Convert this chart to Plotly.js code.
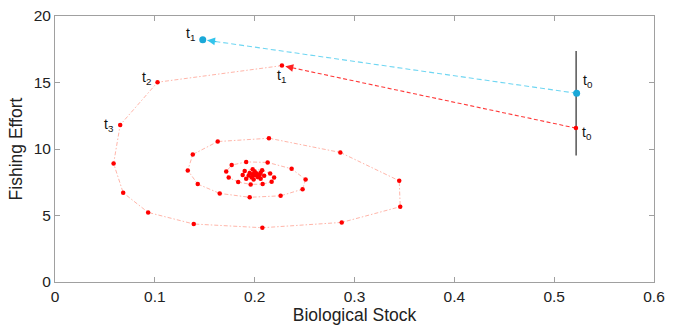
<!DOCTYPE html>
<html>
<head>
<meta charset="utf-8">
<script src="https://cdn.plot.ly/plotly-3.0.1.min.js"></script>
<style>html,body{margin:0;padding:0;background:#fff;}#chart{width:675px;height:329px;}</style>
</head>
<body>
<div id="chart"></div>
<script>
// Red trajectory (t0, t1, t2, t3, ... spiralling in)
const redX = [0.5218, 0.2273, 0.1027, 0.0653, 0.0587, 0.0683, 0.0933, 0.139, 0.2077, 0.2872, 0.3458, 0.3448, 0.2858, 0.2143,
  0.163, 0.138, 0.133, 0.143, 0.165, 0.195, 0.226, 0.248, 0.251, 0.237,
  0.213, 0.1915, 0.177, 0.1715, 0.174, 0.1835, 0.196, 0.208, 0.217, 0.2195, 0.2155,
  0.2075, 0.198, 0.19, 0.188, 0.1915, 0.199, 0.206, 0.2095, 0.206, 0.2, 0.195, 0.194, 0.197, 0.203, 0.205, 0.202, 0.198, 0.199, 0.201, 0.2];
const redY = [11.57, 16.27, 15.02, 11.81, 8.91, 6.71, 5.23, 4.36, 4.08, 4.48, 5.66, 7.61, 9.74, 10.81,
  10.56, 9.59, 8.39, 7.36, 6.66, 6.37, 6.48, 6.98, 7.70, 8.51,
  8.99, 9.03, 8.79, 8.31, 7.86, 7.51, 7.34, 7.36, 7.53, 7.86, 8.16,
  8.40, 8.47, 8.34, 8.04, 7.76, 7.70, 7.76, 7.98, 8.22, 8.30, 8.20, 8.00, 7.88, 7.90, 8.05, 8.15, 8.10, 8.02, 8.05, 8.07];
// Blue trajectory (t0 -> t1)
const blueX = [0.5225, 0.148];
const blueY = [14.19, 18.22];
// Vertical reference segment
const vlineX = [0.522, 0.522];
const vlineY = [9.52, 17.37];
// Tick labels
const xTicks = [0, 0.1, 0.2, 0.3, 0.4, 0.5, 0.6];
const xTickText = ['0', '0.1', '0.2', '0.3', '0.4', '0.5', '0.6'];
const yTicks = [0, 5, 10, 15, 20];
const yTickText = ['0', '5', '10', '15', '20'];

const FONT = 'Liberation Sans, Arial, sans-serif';

const traces = [
  {x: vlineX, y: vlineY, mode: 'lines', line: {color: '#555555', width: 1.5}, hoverinfo: 'skip'},
  {x: redX.slice(1), y: redY.slice(1), mode: 'lines', line: {color: '#ffad9f', width: 0.9, dash: '4px,2px,1.5px,2px'}},
  {x: redX.slice(0, 2), y: redY.slice(0, 2), mode: 'lines', line: {color: '#ff3a3a', width: 1.1, dash: '4px,2.5px'}},
  {x: blueX, y: blueY, mode: 'lines', line: {color: '#6fd6f2', width: 1.1, dash: '5px,3px'}},
  {x: redX, y: redY, mode: 'markers', marker: {color: '#ff0000', size: 4.5}},
  {x: blueX, y: blueY, mode: 'markers', marker: {color: '#1aa8d8', size: 7}}
];

function arrow(x0, y0, x1, y1, color) {
  const f = 0.04;
  return {x: x1 + (x0 - x1) * 0.012, y: y1 + (y0 - y1) * 0.012, ax: x1 + (x0 - x1) * f, ay: y1 + (y0 - y1) * f,
    xref: 'x', yref: 'y', axref: 'x', ayref: 'y', text: '', showarrow: true,
    arrowhead: 2, arrowsize: 1.3, arrowwidth: 1.2, arrowcolor: color};
}
function label(x, y, n, dx, dy) {
  return {x: x, y: y, xref: 'x', yref: 'y', text: 't<sub>' + n + '</sub>', showarrow: false,
    xshift: dx, yshift: dy, font: {family: FONT, size: 14, color: '#111'}};
}

const annotations = [
  arrow(redX[0], redY[0], redX[1], redY[1], '#ff2222'),
  arrow(blueX[0], blueY[0], blueX[1], blueY[1], '#33c4ec'),
  label(blueX[1], blueY[1], 1, -12, 6),
  label(blueX[0], blueY[0], 0, 11, 12),
  label(redX[0], redY[0], 0, 11, -5),
  label(redX[1], redY[1], 1, 0, -10),
  label(redX[2], redY[2], 2, -11, 4),
  label(redX[3], redY[3], 3, -11, 0)
];

const axisCommon = {
  showgrid: false, zeroline: false, showline: true, mirror: 'ticks', linecolor: '#a0a0a0', linewidth: 1,
  ticks: 'inside', ticklen: 5, tickcolor: '#a0a0a0', tickwidth: 1,
  tickfont: {family: FONT, size: 15.5, color: '#222'}
};

const layout = {
  width: 675, height: 329,
  margin: {l: 55, r: 21, t: 16, b: 47},
  paper_bgcolor: '#fff', plot_bgcolor: '#fff',
  showlegend: false,
  xaxis: Object.assign({}, axisCommon, {range: [0, 0.6], tickvals: xTicks, ticktext: xTickText,
    title: {text: 'Biological Stock', standoff: 4, font: {family: FONT, size: 17.5, color: '#222'}}}),
  yaxis: Object.assign({}, axisCommon, {range: [0, 20], tickvals: yTicks, ticktext: yTickText,
    title: {text: 'Fishing Effort', standoff: 6, font: {family: FONT, size: 17.5, color: '#222'}}}),
  annotations: annotations
};

Plotly.newPlot('chart', traces, layout, {displayModeBar: false, staticPlot: true});
</script>
</body>
</html>
